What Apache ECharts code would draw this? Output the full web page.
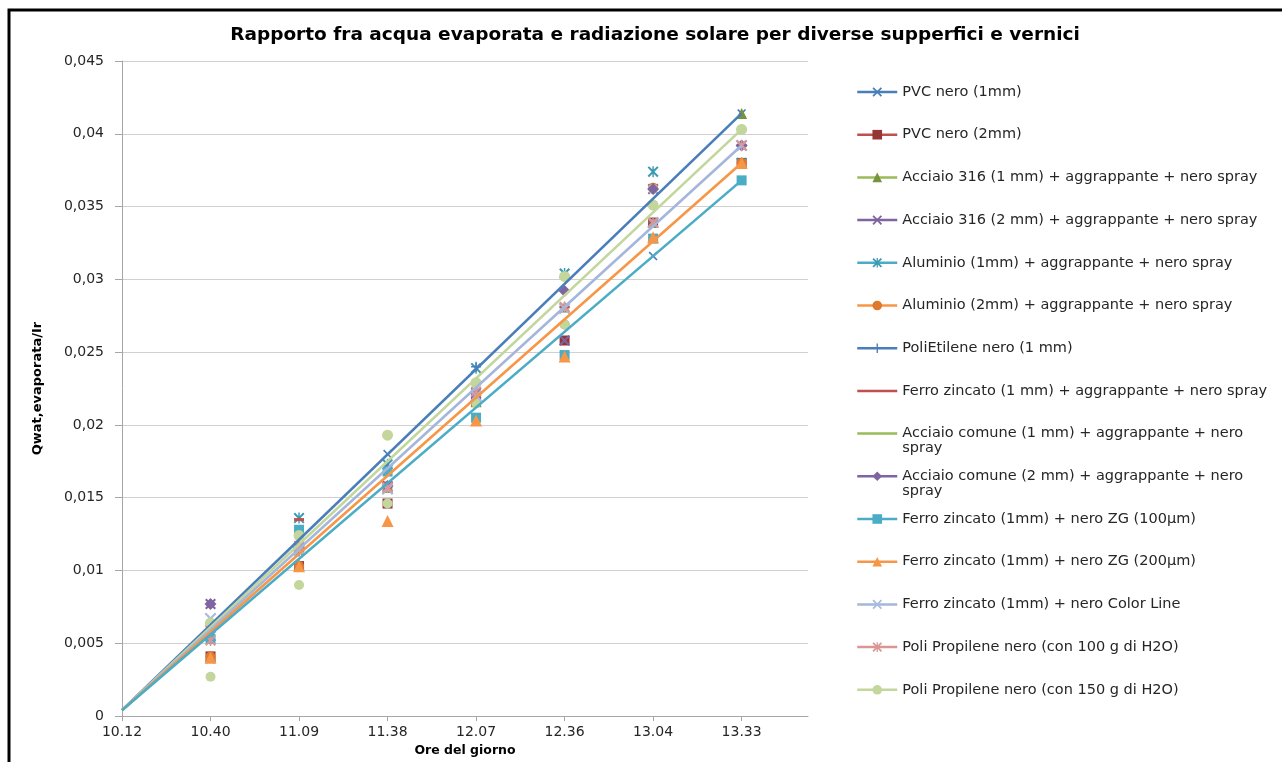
<!DOCTYPE html>
<html>
<head>
<meta charset="utf-8">
<script src="https://cdn.jsdelivr.net/npm/echarts@6/dist/echarts.min.js"></script>
<style>
  html, body { margin: 0; padding: 0; background: #fff; }
  #chart { width: 1282px; height: 762px; }
</style>
</head>
<body>
<div id="chart"></div>
<script>
// Time of day (category positions 0..7 on the x axis)
const timeLabels = ['10.12', '10.40', '11.09', '11.38', '12.07', '12.36', '13.04', '13.33'];

const seriesNames = [
  'PVC nero (1mm)',
  'PVC nero (2mm)',
  'Acciaio 316 (1 mm) + aggrappante + nero spray',
  'Acciaio 316 (2 mm) + aggrappante + nero spray',
  'Aluminio (1mm) + aggrappante + nero spray',
  'Aluminio (2mm) + aggrappante + nero spray',
  'PoliEtilene nero (1 mm)',
  'Ferro zincato (1 mm) + aggrappante + nero spray',
  'Acciaio comune (1 mm) + aggrappante + nero spray',
  'Acciaio comune (2 mm) + aggrappante + nero spray',
  'Ferro zincato (1mm) + nero ZG (100µm)',
  'Ferro zincato (1mm) + nero ZG (200µm)',
  'Ferro zincato (1mm) + nero Color Line',
  'Poli Propilene nero (con 100 g di H2O)',
  'Poli Propilene nero (con 150 g di H2O)'
];

// Qwat,evaporata / Ir measured at 10.40, 11.09, 11.38, 12.07, 12.36, 13.04, 13.33
const pvcNero1mm       = [0.0039, 0.0113, 0.0180, 0.0216, 0.0280, 0.0316, 0.0414];
const pvcNero2mm       = [0.0041, 0.0103, 0.0146, 0.0216, 0.0258, 0.0339, 0.0380];
const acciaio316_1mm   = [0.0041, 0.0104, 0.0157, 0.0216, 0.0281, 0.0339, 0.0414];
const acciaio316_2mm   = [0.0077, 0.0116, 0.0158, 0.0222, 0.0258, 0.0362, 0.0392];
const aluminio1mm      = [0.0055, 0.0136, 0.0173, 0.0239, 0.0304, 0.0374, 0.0380];
const aluminio2mm      = [0.0041, 0.0103, 0.0157, 0.0216, 0.0269, 0.0363, 0.0380];
const poliEtilene1mm   = [0.0052, 0.0113, 0.0172, 0.0240, 0.0281, 0.0339, 0.0403];
const ferroZincatoAggr = [0.0062, 0.0135, 0.0160, 0.0221, 0.0281, 0.0340, 0.0392];
const acciaioComune1mm = [0.0027, 0.0090, 0.0146, 0.0215, 0.0269, 0.0362, 0.0403];
const acciaioComune2mm = [0.0077, 0.0116, 0.0158, 0.0222, 0.0292, 0.0362, 0.0392];
const ferroZG100       = [0.0053, 0.0128, 0.0168, 0.0205, 0.0248, 0.0328, 0.0368];
const ferroZG200       = [0.0040, 0.0103, 0.0134, 0.0203, 0.0247, 0.0329, 0.0380];
const ferroColorLine   = [0.0067, 0.0114, 0.0156, 0.0220, 0.0280, 0.0339, 0.0392];
const poliPropilene100 = [0.0052, 0.0117, 0.0157, 0.0223, 0.0281, 0.0339, 0.0392];
const poliPropilene150 = [0.0064, 0.0124, 0.0193, 0.0229, 0.0302, 0.0351, 0.0403];

const seriesValues = [
  pvcNero1mm, pvcNero2mm, acciaio316_1mm, acciaio316_2mm, aluminio1mm,
  aluminio2mm, poliEtilene1mm, ferroZincatoAggr, acciaioComune1mm, acciaioComune2mm,
  ferroZG100, ferroZG200, ferroColorLine, poliPropilene100, poliPropilene150
];

// Trend lines start at 10.12 from this common value and end on the 13.33 reading
const trendOrigin = 0.0004;
const trendSeries = [0, 14, 12, 11, 10];

// Y axis ticks
const yMin = 0, yMax = 0.045, yStep = 0.005;

// ---- styling ----
const SYM_X = 'M0,1.3L1.3,0L5,3.7L8.7,0L10,1.3L6.3,5L10,8.7L8.7,10L5,6.3L1.3,10L0,8.7L3.7,5Z';
const SYM = {
  x: 'path://' + SYM_X,
  star: 'path://' + SYM_X + 'M4.35,0H5.65V10H4.35Z',
  plus: 'path://M4.3,0H5.7V4.3H10V5.7H5.7V10H4.3V5.7H0V4.3H4.3Z',
  dash: 'path://M0,3.5H10V6.5H0Z'
};
const styles = [
  { line: '#4A7EBB', marker: '#4A7EBB', symbol: SYM.x,      size: 9 },
  { line: '#C0504D', marker: '#943634', symbol: 'rect',     size: 10 },
  { line: '#9BBB59', marker: '#77933C', symbol: 'triangle', size: 11 },
  { line: '#8064A2', marker: '#7F63A1', symbol: SYM.x,      size: 11 },
  { line: '#4BACC6', marker: '#3A9AB4', symbol: SYM.star,   size: 11 },
  { line: '#F79646', marker: '#E0782E', symbol: 'circle',   size: 10 },
  { line: '#4A7EBB', marker: '#4A7EBB', symbol: SYM.plus,   size: 10 },
  { line: '#C0504D', marker: '#C0504D', symbol: SYM.dash,   size: 10, plainLegend: true },
  { line: '#9BBB59', marker: '#C3D69B', symbol: 'circle',   size: 10, plainLegend: true },
  { line: '#8064A2', marker: '#8064A2', symbol: 'diamond',  size: 12 },
  { line: '#4BACC6', marker: '#4BACC6', symbol: 'rect',     size: 10 },
  { line: '#F79646', marker: '#F79646', symbol: 'triangle', size: 12 },
  { line: '#A5B6DB', marker: '#A9BBE0', symbol: SYM.x,      size: 12 },
  { line: '#D99694', marker: '#D99694', symbol: SYM.star,   size: 11 },
  { line: '#C3D69B', marker: '#C3D69B', symbol: 'circle',   size: 11 }
];

const FONT = 'DejaVu Sans';
const TEXT = '#262626';

// legend layout
const LEGEND_LEFT = 856, LEGEND_Y0 = 92, LEGEND_STEP = 42.7;
const LEGEND_FONT = 14.5, LEGEND_LINE = 15, LEGEND_TEXT_W = 383;

const measure = document.createElement('canvas').getContext('2d');
measure.font = LEGEND_FONT + 'px "' + FONT + '"';
function wrapText(str) {
  const words = str.split(' ');
  const lines = [];
  let cur = '';
  words.forEach(w => {
    const next = cur ? cur + ' ' + w : w;
    if (cur && measure.measureText(next).width > LEGEND_TEXT_W) { lines.push(cur); cur = w; }
    else cur = next;
  });
  lines.push(cur);
  return lines;
}

const series = [];
seriesNames.forEach((name, i) => {
  const st = styles[i];
  series.push({
    type: 'line',
    name,
    data: seriesValues[i].map((v, k) => [k + 1, v]),
    symbol: st.symbol,
    symbolSize: st.symbol === SYM.dash ? [10, 3] : st.size,
    showSymbol: true,
    lineStyle: { color: st.line, width: 2.5, opacity: 0 },
    itemStyle: { color: st.marker },
    z: 2
  });
});
trendSeries.forEach(i => {
  const vals = seriesValues[i];
  series.push({
    type: 'line',
    name: seriesNames[i],
    data: [[0, trendOrigin], [timeLabels.length - 1, vals[vals.length - 1]]],
    symbol: 'none',
    lineStyle: { color: styles[i].line, width: 2.6 },
    itemStyle: { color: styles[i].marker },
    z: 3
  });
});

// Each legend row is its own component so wrapped names keep the first line beside the icon.
const legends = seriesNames.map((name, i) => {
  const lines = wrapText(name);
  const extra = (lines.length - 1) * LEGEND_LINE;
  // blank lines on top keep the first text line centred on the icon
  const label = Array(lines.length - 1).fill('').concat(lines).join('\n');
  const cy = LEGEND_Y0 + i * LEGEND_STEP;
  return {
    data: [name],
    orient: 'vertical',
    left: LEGEND_LEFT,
    top: cy - LEGEND_LINE / 2 - extra,
    padding: 0,
    itemWidth: 40,
    itemHeight: 12,
    selectedMode: false,
    formatter: () => label,
    lineStyle: { opacity: 1, width: 2.5 },
    itemStyle: styles[i].plainLegend ? { opacity: 0 } : {},
    textStyle: {
      fontFamily: FONT, fontSize: LEGEND_FONT, color: TEXT,
      lineHeight: LEGEND_LINE
    }
  };
});

const chart = echarts.init(document.getElementById('chart'), null, { renderer: 'canvas' });
chart.setOption({
  backgroundColor: '#ffffff',
  animation: false,
  title: {
    text: 'Rapporto fra acqua evaporata e radiazione solare per diverse supperfici e vernici',
    left: 650,
    top: 21,
    textAlign: 'center',
    textStyle: { fontFamily: FONT, fontSize: 18.5, fontWeight: 'bold', color: '#000' }
  },
  graphic: [{
    type: 'rect',
    shape: { x: 9, y: 10, width: 1400, height: 900 },
    style: { fill: 'none', stroke: '#000', lineWidth: 3 },
    silent: true
  }],
  legend: legends,
  grid: { left: 122, right: 474, top: 61, bottom: 38, containLabel: false },
  xAxis: {
    type: 'value',
    min: 0,
    max: 7.75,
    interval: 1,
    name: 'Ore del giorno',
    nameLocation: 'middle',
    nameGap: 22,
    nameTextStyle: { fontFamily: FONT, fontSize: 12.5, fontWeight: 'bold', color: '#000' },
    axisLine: { show: true, lineStyle: { color: '#A6A6A6', width: 1 } },
    axisTick: { show: true, length: 5, customValues: timeLabels.map((_, i) => i), lineStyle: { color: '#A6A6A6' } },
    axisLabel: {
      customValues: timeLabels.map((_, i) => i),
      formatter: v => timeLabels[Math.round(v)],
      margin: 9,
      fontFamily: FONT, fontSize: 14, color: TEXT
    },
    splitLine: { show: false }
  },
  yAxis: {
    type: 'value',
    min: yMin,
    max: yMax,
    interval: yStep,
    name: 'Qwat,evaporata/Ir',
    nameLocation: 'middle',
    nameGap: 78,
    nameRotate: 90,
    nameTextStyle: { fontFamily: FONT, fontSize: 13, fontWeight: 'bold', color: '#000' },
    axisLine: { show: true, lineStyle: { color: '#A6A6A6', width: 1 } },
    axisTick: { show: true, length: 7, lineStyle: { color: '#A6A6A6' } },
    axisLabel: {
      formatter: v => v === 0 ? '0' : String(+v.toFixed(3)).replace('.', ','),
      margin: 18,
      fontFamily: FONT, fontSize: 14, color: TEXT
    },
    splitLine: { show: true, lineStyle: { color: '#D0D0D0', width: 1 } }
  },
  series
});
</script>
</body>
</html>
